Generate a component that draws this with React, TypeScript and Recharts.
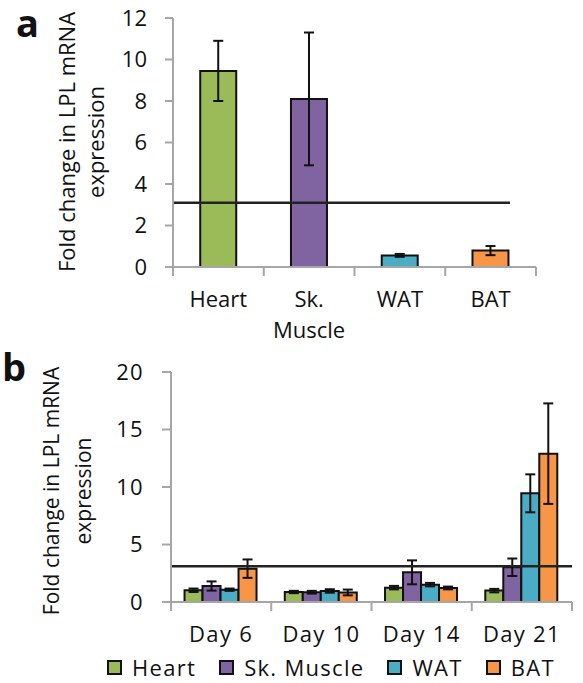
import { BarChart, Bar, XAxis, YAxis, ReferenceLine, ErrorBar, Cell, Legend } from 'recharts';

// panel a: tissue comparison
const tissues = ['Heart', 'Sk. Muscle', 'WAT', 'BAT'];
const tissueFold = [9.45, 8.1, 0.56, 0.79];
const tissueErr = [1.45, 3.2, 0.07, 0.22];
const yTicksA = [0, 2, 4, 6, 8, 10, 12];

// panel b: time course
const days = ['Day 6', 'Day 10', 'Day 14', 'Day 21'];
const heartFold = [1.02, 0.87, 1.25, 0.99];
const heartErr = [0.15, 0.1, 0.15, 0.15];
const muscleFold = [1.39, 0.85, 2.58, 3.02];
const muscleErr = [0.4, 0.12, 1.04, 0.76];
const watFold = [1.07, 0.96, 1.51, 9.45];
const watErr = [0.1, 0.15, 0.15, 1.65];
const batFold = [2.9, 0.83, 1.22, 12.9];
const batErr = [0.8, 0.25, 0.12, 4.37];
const yTicksB = [0, 5, 10, 15, 20];

const threshold = 3.1;

const colors = ['#9bbb59', '#8064a2', '#4bacc6', '#f79646'];
const FONT = '"Open Sans", sans-serif';
const AXIS = '#a6a6a6';
const INK = '#111';
const FS = 22;
const LS_B = 1.3; // panel b text runs a little wider

const dataA = tissues.map((name, i) => ({ name, fold: tissueFold[i], err: tissueErr[i] }));
const dataB = days.map((day, i) => ({
  day,
  heart: heartFold[i], heartErr: heartErr[i],
  muscle: muscleFold[i], muscleErr: muscleErr[i],
  wat: watFold[i], watErr: watErr[i],
  bat: batFold[i], batErr: batErr[i],
}));

function CatTick(props: any) {
  const { x, y, payload, index, band, split, dy, count, ls } = props;
  const lines = split ? String(payload.value).split(' ') : [String(payload.value)];
  const left = x - band / 2;
  return (
    <g>
      <line x1={left} y1={y} x2={left} y2={y + 9} stroke={AXIS} strokeWidth={2} />
      {index === count - 1 && (
        <line x1={x + band / 2} y1={y} x2={x + band / 2} y2={y + 9} stroke={AXIS} strokeWidth={2} />
      )}
      <text x={x} y={y + dy} textAnchor="middle" fontFamily={FONT} fontSize={FS} fill={INK} letterSpacing={ls || 0}>
        {lines.map((l, i) => (
          <tspan key={l} x={x} dy={i === 0 ? 0 : 31}>{l}</tspan>
        ))}
      </text>
    </g>
  );
}

function AxisTitle({ t1, t2, cy, fs }: any) {
  return (
    <g fontFamily={FONT} fill={INK} fontSize={fs}>
      <text x={t1} y={cy} transform={`rotate(-90 ${t1} ${cy})`} textAnchor="middle">
        Fold change in LPL mRNA
      </text>
      <text x={t2} y={cy} transform={`rotate(-90 ${t2} ${cy})`} textAnchor="middle">
        expression
      </text>
    </g>
  );
}

function ShortLine(props: any) {
  const { x1, y1, x2, y2 } = props;
  return <line x1={x1} y1={y1} x2={x2 - 26} y2={y2} stroke="#222" strokeWidth={2.5} />;
}

const seriesNames = ['Heart', 'Sk. Muscle', 'WAT', 'BAT'];

function LegendRow({ payload }: any) {
  const items = seriesNames.map((n) => (payload || []).find((e: any) => e.value === n)).filter(Boolean);
  return (
    <div style={{ display: 'flex', alignItems: 'center', height: 20, paddingLeft: 107, fontFamily: FONT, fontSize: FS, letterSpacing: LS_B, color: INK, lineHeight: '20px', whiteSpace: 'nowrap' }}>
      {items.map((e: any) => (
        <div key={e.value} style={{ display: 'flex', alignItems: 'center', marginRight: 23 }}>
          <span style={{ width: 11, height: 11, background: e.color, border: '2px solid #111', marginRight: 10 }} />
          <span>{e.value}</span>
        </div>
      ))}
    </div>
  );
}

const letterStyle = { position: 'absolute' as const, fontFamily: FONT, fontWeight: 700, fontSize: 38, lineHeight: '38px', color: INK };

export default function App() {
  return (
    <div style={{ position: 'absolute', left: 0, top: 0, width: 583, height: 683, background: '#fff' }}>
      <div style={{ position: 'absolute', left: 0, top: 0 }}>
        <BarChart width={583} height={350} data={dataA} margin={{ top: 18, right: 47, left: 0, bottom: 23 }} barCategoryGap="30%">
          <XAxis
            dataKey="name"
            height={60}
            stroke={AXIS}
            strokeWidth={2}
            tickLine={false}
            tickSize={0}
            tickMargin={0}
            interval={0}
            tick={(p: any) => <CatTick {...p} band={90.75} split dy={40} count={tissues.length} />}
          />
          <YAxis
            width={173}
            domain={[0, 12]}
            ticks={yTicksA}
            stroke={AXIS}
            strokeWidth={2}
            tickSize={8}
            tickMargin={18}
            tick={{ fontSize: FS, fill: INK, fontFamily: FONT }}
            label={<AxisTitle t1={75} t2={104} cy={142} fs={22} />}
          />
          <Bar dataKey="fold" stroke={INK} strokeWidth={2} isAnimationActive={false}>
            {dataA.map((d, i) => (
              <Cell key={d.name} fill={colors[i]} />
            ))}
            <ErrorBar dataKey="err" width={5} stroke={INK} strokeWidth={2} isAnimationActive={false} />
          </Bar>
          <ReferenceLine y={threshold} shape={ShortLine} />
        </BarChart>
      </div>
      <div style={{ position: 'absolute', left: 0, top: 350 }}>
        <BarChart width={583} height={333} data={dataB} margin={{ top: 22, right: 11, left: 0, bottom: 21 }} barCategoryGap="13.5%" barGap={0}>
          <XAxis
            dataKey="day"
            height={60}
            stroke={AXIS}
            strokeWidth={2}
            tickLine={false}
            tickSize={0}
            tickMargin={0}
            interval={0}
            tick={(p: any) => <CatTick {...p} band={100.25} dy={40} count={days.length} ls={LS_B} />}
          />
          <YAxis
            width={171}
            domain={[0, 20]}
            ticks={yTicksB}
            stroke={AXIS}
            strokeWidth={2}
            tickSize={9}
            tickMargin={18}
            tick={{ fontSize: FS, fill: INK, fontFamily: FONT, letterSpacing: LS_B }}
            label={<AxisTitle t1={59} t2={91} cy={141} fs={21} />}
          />
          <Legend
            layout="vertical"
            verticalAlign="middle"
            align="center"
            content={LegendRow}
            wrapperStyle={{ left: 0, top: 307, width: 583, height: 20 }}
          />
          <Bar dataKey="heart" name="Heart" fill={colors[0]} stroke={INK} strokeWidth={2} isAnimationActive={false}>
            <ErrorBar dataKey="heartErr" width={5} stroke={INK} strokeWidth={2} isAnimationActive={false} />
          </Bar>
          <Bar dataKey="muscle" name="Sk. Muscle" fill={colors[1]} stroke={INK} strokeWidth={2} isAnimationActive={false}>
            <ErrorBar dataKey="muscleErr" width={5} stroke={INK} strokeWidth={2} isAnimationActive={false} />
          </Bar>
          <Bar dataKey="wat" name="WAT" fill={colors[2]} stroke={INK} strokeWidth={2} isAnimationActive={false}>
            <ErrorBar dataKey="watErr" width={5} stroke={INK} strokeWidth={2} isAnimationActive={false} />
          </Bar>
          <Bar dataKey="bat" name="BAT" fill={colors[3]} stroke={INK} strokeWidth={2} isAnimationActive={false}>
            <ErrorBar dataKey="batErr" width={5} stroke={INK} strokeWidth={2} isAnimationActive={false} />
          </Bar>
          <ReferenceLine y={threshold} stroke="#222" strokeWidth={2.5} />
        </BarChart>
      </div>
      <div style={{ ...letterStyle, left: 16, top: 3 }}>a</div>
      <div style={{ ...letterStyle, left: 2, top: 347 }}>b</div>
    </div>
  );
}
